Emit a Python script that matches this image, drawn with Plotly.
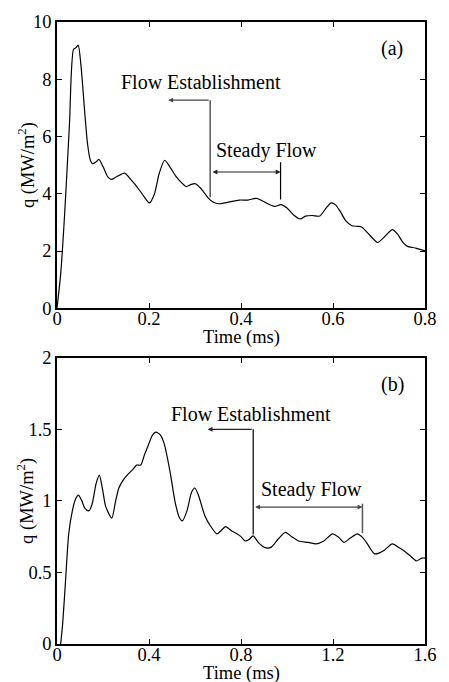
import plotly.graph_objects as go

# Panel (a) data: time (ms), heat flux q (MW/m^2)
t_a = [0.0, 0.008, 0.017, 0.027, 0.036, 0.041, 0.046, 0.052, 0.060, 0.066, 0.072, 0.077,
       0.084, 0.091, 0.100, 0.110, 0.118, 0.130, 0.147, 0.160, 0.171, 0.185, 0.201, 0.212,
       0.222, 0.234, 0.245, 0.259, 0.271, 0.281, 0.292, 0.301, 0.312, 0.329, 0.340, 0.352,
       0.370, 0.396, 0.415, 0.434, 0.450, 0.473, 0.487, 0.500, 0.515, 0.529, 0.540, 0.555,
       0.571, 0.585, 0.596, 0.605, 0.615, 0.628, 0.641, 0.655, 0.663, 0.680, 0.697, 0.712,
       0.729, 0.740, 0.752, 0.761, 0.780, 0.800]
q_a = [0.0, 1.2, 3.4, 6.4, 9.05, 9.1, 9.19, 8.5, 6.9, 5.8, 5.2, 5.05,
       5.1, 5.2, 4.95, 4.6, 4.5, 4.6, 4.72, 4.5, 4.3, 4.0, 3.68, 4.0,
       4.7, 5.17, 4.95, 4.6, 4.38, 4.25, 4.33, 4.35, 4.2, 3.85, 3.7, 3.65,
       3.7, 3.78, 3.78, 3.84, 3.72, 3.56, 3.62, 3.5, 3.25, 3.12, 3.22, 3.24,
       3.22, 3.5, 3.68, 3.62, 3.4, 3.05, 2.88, 2.86, 2.83, 2.55, 2.3, 2.5,
       2.75, 2.6, 2.3, 2.17, 2.1, 2.0]

# Panel (b) data
t_b = [0.016, 0.025, 0.037, 0.051, 0.068, 0.080, 0.093, 0.108, 0.121, 0.139, 0.153, 0.170,
       0.184, 0.198, 0.212, 0.238, 0.255, 0.269, 0.290, 0.311, 0.330, 0.346, 0.364, 0.380,
       0.395, 0.415, 0.430, 0.450, 0.466, 0.480, 0.494, 0.515, 0.533, 0.545, 0.565, 0.585,
       0.599, 0.615, 0.642, 0.665, 0.695, 0.712, 0.733, 0.760, 0.782, 0.800, 0.818, 0.835,
       0.853, 0.875, 0.902, 0.930, 0.960, 0.993, 1.020, 1.050, 1.092, 1.127, 1.160, 1.198,
       1.225, 1.247, 1.275, 1.306, 1.325, 1.345, 1.365, 1.380, 1.400, 1.423, 1.458, 1.490,
       1.514, 1.540, 1.563, 1.585, 1.600]
q_b = [0.0, 0.15, 0.44, 0.77, 0.94, 1.01, 1.04, 1.0, 0.95, 0.93, 0.98, 1.12,
       1.18, 1.08, 0.96, 0.88, 1.0, 1.09, 1.15, 1.19, 1.22, 1.25, 1.25, 1.32,
       1.38, 1.46, 1.48, 1.46, 1.40, 1.3, 1.18, 0.98, 0.88, 0.86, 0.93, 1.06,
       1.09, 1.04, 0.90, 0.83, 0.77, 0.79, 0.82, 0.79, 0.77, 0.75, 0.72, 0.73,
       0.755, 0.71, 0.675, 0.675, 0.73, 0.78, 0.75, 0.72, 0.71, 0.70, 0.72, 0.77,
       0.745, 0.71, 0.74, 0.77, 0.75, 0.71, 0.66, 0.63, 0.635, 0.655, 0.70, 0.67,
       0.645, 0.61, 0.58, 0.60, 0.60]

xticks_a = [0, 0.2, 0.4, 0.6, 0.8]
xticklabels_a = ["0", "0.2", "0.4", "0.6", "0.8"]
yticks_a = [0, 2, 4, 6, 8, 10]
xticks_b = [0, 0.4, 0.8, 1.2, 1.6]
xticklabels_b = ["0", "0.4", "0.8", "1.2", "1.6"]
yticks_b = [0, 0.5, 1, 1.5, 2]
yticklabels_b = ["0", "0.5", "1", "1.5", "2"]

FONT = "Liberation Serif, Times New Roman, serif"
fs = 18.5     # axis text
fa = 20       # annotation text

fig = go.Figure()
fig.add_trace(go.Scatter(x=t_a, y=q_a, mode="lines",
                         line=dict(color="black", width=1.2, shape="spline", smoothing=0.7),
                         xaxis="x", yaxis="y", showlegend=False, hoverinfo="skip"))
fig.add_trace(go.Scatter(x=t_b, y=q_b, mode="lines",
                         line=dict(color="black", width=1.2, shape="spline", smoothing=0.7),
                         xaxis="x2", yaxis="y2", showlegend=False, hoverinfo="skip"))

axis_common = dict(showline=True, linecolor="black", linewidth=1.5, mirror="ticks", ticks="inside",
                   ticklen=5, tickcolor="black", showgrid=False, zeroline=False,
                   tickfont=dict(family=FONT, size=fs, color="black"))

fig.update_layout(
    width=449, height=682,
    margin=dict(l=57, r=12, t=16, b=38),
    paper_bgcolor="white", plot_bgcolor="white",
    font=dict(family=FONT, size=fs, color="black"),
    xaxis=dict(domain=[0, 1], range=[0, 0.8], tickvals=xticks_a, ticktext=xticklabels_a,
               anchor="y", ticklabelstandoff=-7, **axis_common),
    yaxis=dict(domain=[0.5398, 1], range=[0, 10], tickvals=yticks_a, anchor="x", **axis_common),
    xaxis2=dict(domain=[0, 1], range=[0, 1.6], tickvals=xticks_b, ticktext=xticklabels_b,
                anchor="y2", ticklabelstandoff=-7, **axis_common),
    yaxis2=dict(domain=[0, 0.4602], range=[0, 2], tickvals=yticks_b, ticktext=yticklabels_b,
                anchor="x2", **axis_common),
)


def txt(x, y, s, xref, yref):
    fig.add_annotation(x=x, y=y, text=s, xref=xref, yref=yref, showarrow=False,
                       xanchor="center", yanchor="middle",
                       font=dict(family=FONT, size=fa, color="black"))


def arrow(x, y, ax, ay, xref, yref, color, both=False):
    kw = dict(arrowside="end+start", startarrowhead=2, startarrowsize=0.8) if both else {}
    fig.add_annotation(x=x, y=y, ax=ax, ay=ay, xref=xref, yref=yref, axref=xref, ayref=yref,
                       showarrow=True, arrowhead=2, arrowsize=0.8, arrowwidth=1.2,
                       arrowcolor=color, text="", **kw)


# Panel (a) annotations
txt(0.729, 9.07, "(a)", "x", "y")
txt(0.312, 7.92, "Flow Establishment", "x", "y")
txt(0.455, 5.52, "Steady Flow", "x", "y")
arrow(0.242, 7.27, 0.333, 7.27, "x", "y", "#444")
fig.add_shape(type="line", x0=0.333, x1=0.333, y0=7.27, y1=3.88, xref="x", yref="y",
              line=dict(color="#555", width=1.5))
arrow(0.486, 4.76, 0.335, 4.76, "x", "y", "#222", both=True)
fig.add_shape(type="line", x0=0.486, x1=0.486, y0=5.1, y1=3.8, xref="x", yref="y",
              line=dict(color="black", width=1.2))

# Panel (b) annotations
txt(1.457, 1.81, "(b)", "x2", "y2")
txt(0.845, 1.61, "Flow Establishment", "x2", "y2")
txt(1.105, 1.08, "Steady Flow", "x2", "y2")
arrow(0.655, 1.50, 0.853, 1.50, "x2", "y2", "#222")
fig.add_shape(type="line", x0=0.853, x1=0.853, y0=1.50, y1=0.765, xref="x2", yref="y2",
              line=dict(color="black", width=1.2))
arrow(1.328, 0.957, 0.855, 0.957, "x2", "y2", "#444", both=True)
fig.add_shape(type="line", x0=1.328, x1=1.328, y0=0.98, y1=0.775, xref="x2", yref="y2",
              line=dict(color="#555", width=1.5))

# Axis titles
for ybase in (0.5398, 0.0):
    fig.add_annotation(x=0.5, y=ybase, yshift=-29, text="Time (ms)", xref="paper", yref="paper",
                       showarrow=False, xanchor="center", yanchor="middle",
                       font=dict(family=FONT, size=fs, color="black"))
for ymid in ((0.5398 + 1) / 2, 0.4602 / 2):
    fig.add_annotation(x=0, xshift=-31, y=ymid, text="q (MW/m<sup>2</sup>)", textangle=-90,
                       xref="paper", yref="paper", showarrow=False,
                       xanchor="center", yanchor="middle",
                       font=dict(family=FONT, size=fs, color="black"))

fig.write_html("out.html")
